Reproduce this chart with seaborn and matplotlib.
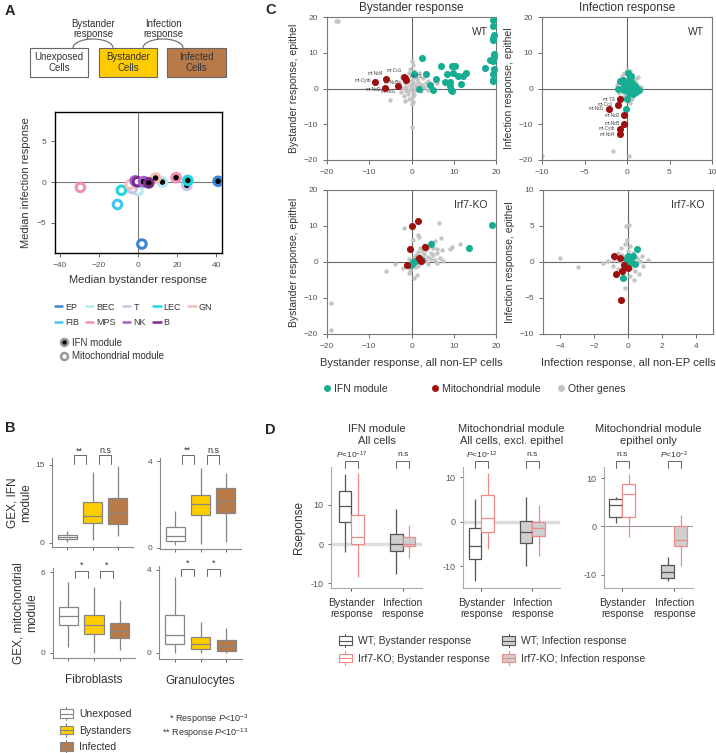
import numpy as np
import pandas as pd
import matplotlib
matplotlib.use("Agg")
import matplotlib.pyplot as plt
import seaborn as sns
from matplotlib.patches import Rectangle, Arc, Patch
from matplotlib.lines import Line2D
from matplotlib.legend_handler import HandlerBase

# ---------------- data ----------------
# Panel A: median responses per cell type
cell_types = ["EP", "BEC", "T", "LEC", "GN", "FIB", "MPS", "NK", "B"]
cell_colors = ["#3a86d0", "#b5eaf0", "#cbc2e8", "#22d6e0", "#f7bcb8",
               "#45c6f2", "#f38fb5", "#a760c6", "#7b2a90"]
ifn_x = [41.0, 12.5, 25.0, 25.5, 9.0, 3.8, 19.5, 2.8, 5.5]
ifn_y = [0.1, 0.0, -0.4, 0.2, 0.5, 0.0, 0.55, 0.05, -0.1]
mito_x = [2.0, 0.0, -3.0, -8.5, -4.0, -10.5, -29.5, -1.5, -0.3]
mito_y = [-7.6, -1.05, -0.8, -1.0, -0.3, -2.75, -0.65, 0.15, 0.05]

# Panel B: five-number summaries (whisker low, q1, median, q3, whisker high)
b_groups = ["Unexposed", "Bystanders", "Infected"]
fib_ifn = [[0.2, 0.8, 1.2, 1.5, 2.3], [0.6, 3.8, 5.1, 7.9, 13.7], [1.4, 3.6, 5.7, 8.6, 14.7]]
gran_ifn = [[0.14, 0.32, 0.55, 0.95, 1.7], [0.18, 1.5, 2.0, 2.44, 3.66], [0.26, 1.6, 2.16, 2.74, 3.43]]
fib_mito = [[0.45, 2.04, 2.72, 3.37, 5.23], [0.0, 1.37, 2.1, 2.8, 4.9], [0.2, 1.07, 1.6, 2.23, 3.9]]
gran_mito = [[0.0, 0.42, 0.85, 1.82, 3.67], [0.0, 0.18, 0.43, 0.74, 1.5], [0.0, 0.08, 0.31, 0.63, 1.18]]

# Panel C: gene-level responses
# WT bystander
wt_byst_ifn_x = [2.4, 0.6, 3.4, 1.8, 4.3, 5.0, 5.9, 7.1, 8.5, 8.0, 9.2, 9.8, 9.7, 10.3, 9.0, 9.4, 9.7, 11.0,
                 11.7, 12.1, 12.9, 17.5, 18.6, 19.3, 19.4, 19.5, 19.4, 19.3, 19.5, 19.6, 19.4, 19.3, 19.5, 19.4,
                 19.3, 19.2]
wt_byst_ifn_y = [8.6, 4.0, 4.0, 0.0, 0.9, -0.3, 2.6, 6.4, 4.0, 1.9, 1.9, 4.3, 6.2, 6.4, 0.8, -0.3, -0.6, 3.4,
                 1.2, 3.4, 4.4, 5.6, 8.1, 19.1, 17.4, 15.1, 14.2, 13.5, 9.6, 8.7, 8.2, 7.6, 5.4, 4.0, 2.3, 2.0]
wt_byst_mito_x = [-8.7, -6.1, -6.3, -3.1, -1.7, -1.4, -1.6]
wt_byst_mito_y = [1.9, 2.6, 0.2, 0.6, 3.1, 2.5, 2.9]
wt_byst_mito_lab = ["mt-Cytb", "mt-Nd4", "mt-Nd2", "mt-Nd1", "mt-Co1", "mt-Tl1", "mt-Nd5"]
wt_byst_other_x = [-17.8, -17.3, 0.0, -5.0, 0.2, 0.4, -0.3, 0.5, -0.5, 0.8, -1.0, 0.3, 1.2, -0.8, 0.1, 1.5,
                   -1.5, 0.6, 2.0, -0.4, 1.0, 2.5, -1.2, 0.2, 3.0, 1.6, -2.0, 0.7, -0.6, 1.3, -1.4, 0.3, 2.2,
                   -0.9, 0.6, -1.8, 0.0, -0.5, 0.4, -2.5, 3.5, 4.0, 5.5, 6.0, 3.8, -3.0, -2.2, 1.8, -1.5, 0.1, 2.8]
wt_byst_other_y = [19.0, 19.0, -10.8, -3.3, 7.8, 6.5, 5.5, 4.8, 4.2, 3.5, 3.0, 3.0, 2.6, 2.2, 2.0, 1.8, 1.5,
                   1.4, 1.2, 1.0, 0.8, 0.9, 0.5, 0.4, 0.5, 0.3, 0.2, -0.2, -0.4, -0.5, -0.8, -1.0, -0.7, -1.5,
                   -1.8, -2.0, -2.6, -3.0, -3.8, -1.0, 1.5, 2.2, 2.0, 1.5, -0.3, 1.8, 3.2, 4.2, -3.5, -4.3, 2.8]
# WT infection
wt_inf_ifn_x = [0.1, -0.8, -0.5, -1.1, 0.0, -0.1, 1.4, 0.6, 0.3, 0.8, 0.5, 0.2, 0.9, -0.2, 0.4, 0.7, 0.0,
                0.3, 1.0, -0.3, 0.5, 0.2, 0.6, 1.1, -0.4]
wt_inf_ifn_y = [4.4, 2.0, 2.3, 0.0, -2.8, -5.6, -0.5, 1.4, 0.5, 0.0, -0.7, -1.2, 0.8, 1.0, 2.8, -1.5, 0.2,
                -0.3, -0.9, -0.5, 3.5, 1.8, 0.3, 0.5, 0.7]
wt_inf_mito_x = [-0.8, -1.1, -2.1, -0.3, -0.3, -0.8, -0.8]
wt_inf_mito_y = [-3.0, -4.5, -5.6, -7.5, -9.9, -11.3, -12.8]
wt_inf_mito_lab = ["mt-Tl1", "mt-Co1", "mt-Nd1", "mt-Nd2", "mt-Nd5", "mt-Cytb", "mt-Nd4"]
wt_inf_other_x = [-10.0, -1.6, 0.2, 0.0, 0.3, -0.3, 0.6, 1.3, -0.6, 0.2, -0.2, 0.9, -0.9, 0.4, 1.1, -0.4,
                  0.7, -0.7, 0.1, 1.0, -0.3, 0.5, -0.6, 0.2, 0.8, -0.2, 0.4, -0.5, 0.1, 0.6, -1.2, 1.6, -1.0, 0.3]
wt_inf_other_y = [-18.8, -17.4, -18.8, 5.3, 4.8, 4.2, 3.8, 3.2, 3.5, 3.0, 2.5, 2.6, 1.8, 1.8, 1.5, 1.2, 0.9,
                  0.5, 0.6, 0.2, -0.2, -0.5, -0.8, -1.2, -1.5, -1.8, -2.2, -2.5, -3.2, -2.9, 1.0, 0.5, -1.3, -4.0]
# Irf7-KO bystander
ko_byst_ifn_x = [4.6, 13.5, 19.0, 0.0, 0.4, 0.8, 1.2, 2.5, -0.3, 1.8, 0.6]
ko_byst_ifn_y = [5.1, 3.9, 10.4, -0.5, 0.0, 0.3, 0.5, 0.5, -0.7, 0.6, 0.1]
ko_byst_mito_x = [1.5, 0.0, 3.3, -0.3, 1.8, 2.3, -1.1]
ko_byst_mito_y = [11.5, 10.1, 4.2, 3.6, 1.1, 0.2, -0.7]
ko_byst_other_x = [-19.0, -19.0, -6.0, -4.0, -2.0, 0.5, 1.2, -0.5, 11.5, 9.2, 9.5, 7.0, 6.6, -1.7, 1.5, 1.8,
                   5.5, 4.5, 3.0, 2.0, 4.0, 5.0, 6.0, 7.2, 3.5, 2.5, 1.5, 4.5, 6.0, 3.0, 1.0, 5.2, 2.0, 3.8,
                   0.5, 6.8, 2.8, 4.6, 1.5, 0.2, 3.5, 5.5, -0.5, 7.5, 2.2, -1.0, 0.8, -0.3, 1.5, 4.0, 6.0, 0.3]
ko_byst_other_y = [-11.3, -19.0, -2.4, -0.5, -1.8, -4.5, -3.5, -3.0, 5.0, 3.5, 4.2, 6.8, 10.8, 9.4, 7.5, 7.0,
                   5.8, 5.5, 4.8, 4.0, 4.0, 3.8, 3.5, 3.2, 3.2, 3.0, 2.8, 2.6, 2.4, 2.2, 2.0, 2.0, 1.8, 1.5,
                   1.4, 1.2, 1.0, 0.9, 0.6, 0.4, 0.3, 0.5, 0.8, 0.2, -0.3, -0.8, -1.5, -2.2, -1.0, -0.5, -0.2, 6.2]
# Irf7-KO infection
ko_inf_ifn_x = [0.5, 0.3, 0.0, -0.1, 0.2, 0.4, 0.1, -0.3]
ko_inf_ifn_y = [1.8, 0.9, 0.8, 0.4, 0.1, -0.3, -0.2, -2.2]
ko_inf_mito_x = [-0.8, -0.5, -0.25, 0.0, -0.35, -0.7, -0.4]
ko_inf_mito_y = [0.8, 0.6, -0.4, -0.9, -1.2, -1.7, -5.3]
ko_inf_other_x = [-4.0, -2.95, -0.1, 0.05, -0.15, 0.9, 0.65, -1.2, -0.9, -0.6, -0.2, 0.1, 0.0, -0.35, 0.3,
                  0.5, 0.7, -0.5, -0.1, 0.2, 0.4, -0.3, 0.1, -0.6, 0.8, -0.8, 0.35, -0.4, 0.6, -0.05, 0.15,
                  1.2, -1.5]
ko_inf_other_y = [0.5, -0.7, 5.0, 5.2, -3.6, -0.5, -1.6, 0.1, -0.6, 1.2, 2.5, 2.2, 1.5, 1.0, 1.3, 0.5, 0.2,
                  0.2, -0.3, -0.8, -1.2, -1.5, -2.0, -1.0, 0.8, 0.3, -2.5, 2.0, 1.8, 3.0, -0.1, 0.3, -0.2]

# Panel D: five-number summaries, order WT byst, KO byst, WT inf, KO inf
d_resp = ["Bystander\nresponse", "Infection\nresponse"]
d_geno = ["WT", "Irf7-KO"]
d_ifn_all = [[-2.0, 5.6, 9.6, 13.6, 17.8], [-8.4, -0.1, 1.9, 7.4, 18.2],
             [-7.7, -1.7, 0.0, 2.5, 9.0], [-3.5, -0.5, 0.1, 1.9, 4.9]]
d_mito_noep = [[-13.4, -8.4, -5.5, -1.5, 5.2], [-6.1, -2.4, 0.8, 5.9, 11.0],
               [-9.9, -4.8, -2.3, 0.2, 5.6], [-7.6, -3.3, -1.5, 0.0, 3.7]]
d_mito_ep = [[0.7, 1.9, 4.4, 5.6, 6.0], [-2.2, 1.9, 6.6, 8.7, 10.9],
             [-11.4, -10.8, -9.4, -8.0, -6.3], [-8.2, -4.0, -2.9, 0.1, 2.3]]

# ---------------- style ----------------
sns.set_theme(style="ticks")
plt.rcParams["font.family"] = ["Liberation Sans", "DejaVu Sans"]
plt.rcParams["mathtext.fontset"] = "custom"
plt.rcParams["mathtext.rm"] = "Liberation Sans"
plt.rcParams["mathtext.it"] = "Liberation Sans:italic"
plt.rcParams["axes.unicode_minus"] = True

TXT = "#333333"
TICK = "#555555"
W, H = 716, 753
fig = plt.figure(figsize=(W / 100, H / 100), dpi=100)


def add_ax(x0, y0, x1, y1):
    return fig.add_axes([x0 / W, 1 - y1 / H, (x1 - x0) / W, (y1 - y0) / H])


class BoxGlyph(HandlerBase):
    """Small box-and-whisker symbol for legends."""
    def create_artists(self, legend, orig, xd, yd, width, height, fontsize, trans):
        fc, ec = orig.get_facecolor(), orig.get_edgecolor()
        x0, y0 = -xd, -yd
        cx = x0 + width / 2
        stub = Line2D([cx, cx], [y0 - 0.3 * height, y0 + 1.3 * height], color=ec,
                      lw=0.8, transform=trans)
        rect = Rectangle((x0, y0), width, height, facecolor=fc, edgecolor=ec,
                         lw=0.8, transform=trans)
        med = Line2D([x0, x0 + width], [y0 + height / 2] * 2, color=ec, lw=0.8,
                     transform=trans)
        return [stub, rect, med]


def bracket(ax, x1, x2, ytop, ybot, ytext, text, fs=6.5):
    tr = ax.get_xaxis_transform()
    ax.plot([x1, x1, x2, x2], [ybot, ytop, ytop, ybot], transform=tr,
            clip_on=False, color="#666666", lw=0.7)
    ax.text((x1 + x2) / 2, ytext, text, transform=tr, ha="center",
            va="center", fontsize=fs, color=TXT)


def five_num_frame(stats, labels):
    rows = []
    for lab, vals in zip(labels, stats):
        for v in vals:
            rows.append({"group": lab, "value": v})
    return pd.DataFrame(rows)


# ---------------- overlay for diagram / free text ----------------
ov = fig.add_axes([0, 0, 1, 1])
ov.set_xlim(0, W)
ov.set_ylim(H, 0)
ov.axis("off")
ov.patch.set_alpha(0)

for lab, (x, y) in zip("ABCD", [(5, 4), (5, 421), (265, 3), (265, 423)]):
    ov.text(x, y, lab, fontsize=10.5, fontweight="bold", va="top", ha="left")

# A diagram
diag_boxes = [("Unexposed\nCells", 30, 88, "white"),
              ("Bystander\nCells", 99, 157, "#FFCC00"),
              ("Infected\nCells", 167, 226, "#B97A4A")]
for txt, x0, x1, col in diag_boxes:
    ov.add_patch(Rectangle((x0, 48), x1 - x0, 29, facecolor=col,
                           edgecolor="#666666", lw=0.8))
    ov.text((x0 + x1) / 2, 62.5, txt, ha="center", va="center",
            fontsize=7, color=TXT, linespacing=1.05)
for cx, txt in [(93, "Bystander\nresponse"), (163, "Infection\nresponse")]:
    ov.add_patch(Arc((cx, 48), 40, 18, theta1=180, theta2=360,
                     color="#666666", lw=0.8))
    ov.text(cx, 29, txt, ha="center", va="center", fontsize=7,
            color=TXT, linespacing=1.05)

# ---------------- Panel A scatter ----------------
ax_a = add_ax(55, 112, 222, 253)
ax_a.axhline(0, color="#777777", lw=0.8, zorder=0)
ax_a.axvline(0, color="#777777", lw=0.8, zorder=0)
pal_a = dict(zip(cell_types, cell_colors))
df_mito = pd.DataFrame({"cell": cell_types, "x": mito_x, "y": mito_y})
df_ifn = pd.DataFrame({"cell": cell_types, "x": ifn_x, "y": ifn_y})
for df, face in [(df_mito, "white"), (df_ifn, "black")]:
    sns.scatterplot(data=df, x="x", y="y", hue="cell", palette=pal_a,
                    s=38, legend=False, ax=ax_a, zorder=3)
    coll = ax_a.collections[-1]
    coll.set_edgecolors(coll.get_facecolors())
    coll.set_facecolors(face)
    coll.set_linewidths(2.2)
ax_a.set_xlim(-42.5, 43)
ax_a.set_ylim(-8.7, 8.6)
ax_a.set_xticks([-40, -20, 0, 20, 40])
ax_a.set_yticks([-5, 0, 5])
for s in ax_a.spines.values():
    s.set_color("black")
    s.set_linewidth(1.0)
ax_a.tick_params(labelsize=6, colors=TICK, length=3, width=0.6)
ax_a.set_xlabel("Median bystander response", fontsize=8, color=TXT)
ax_a.set_ylabel("Median infection response", fontsize=8, color=TXT)

cell_handles = [Line2D([], [], color=c, lw=1.8) for c in cell_colors]
leg_order = [0, 5, 1, 6, 2, 7, 3, 8, 4]
fig.legend([cell_handles[i] for i in leg_order], [cell_types[i] for i in leg_order],
           ncol=5, loc="upper left", bbox_to_anchor=(50 / W, 1 - 298 / H),
           frameon=False, fontsize=6.5, handlelength=0.8, handletextpad=0.35,
           columnspacing=0.8, labelspacing=0.75, borderpad=0, labelcolor=TXT)
mod_handles = [Line2D([], [], marker="o", ls="none", ms=5, mfc="black", mec="#999999", mew=1.8),
               Line2D([], [], marker="o", ls="none", ms=5, mfc="white", mec="#999999", mew=1.8)]
fig.legend(mod_handles, ["IFN module", "Mitochondrial module"], loc="upper left",
           bbox_to_anchor=(54 / W, 1 - 333 / H), frameon=False, fontsize=7,
           handlelength=1.0, handletextpad=0.3, labelspacing=0.35, borderpad=0,
           labelcolor=TXT)

# ---------------- Panel B boxplots ----------------
b_pal = dict(zip(b_groups, ["white", "#FFCC00", "#B97A4A"]))
b_panels = [
    ((52, 458, 133, 547), fib_ifn, (-0.77, 16.3), [0, 15], ["**", "n.s"], (1.034, 0.933, 1.08),
     "GEX, IFN\nmodule", ""),
    ((160, 458, 241, 549), gran_ifn, (-0.05, 4.14), [0, 4], ["**", "n.s"], (1.034, 0.933, 1.08), "", ""),
    ((53, 568, 135, 658), fib_mito, (-0.39, 6.3), [0, 6], ["*", "*"], (0.97, 0.89, 1.03),
     "GEX, mitochondrial\nmodule", "Fibroblasts"),
    ((159, 566, 242, 659), gran_mito, (-0.3, 4.19), [0, 4], ["*", "*"], (0.97, 0.89, 1.03), "",
     "Granulocytes"),
]
for rect, stats, ylim, yt, sig, (yb_top, yb_bot, y_txt), ylab, xlab in b_panels:
    ax = add_ax(*rect)
    df = five_num_frame(stats, b_groups)
    sns.boxplot(data=df, x="group", y="value", hue="group", order=b_groups,
                hue_order=b_groups, palette=b_pal, saturation=1, width=0.75,
                whis=(0, 100), showfliers=False, showcaps=False,
                linecolor="#858585", linewidth=0.9, legend=False, ax=ax)
    ax.set_xlim(-0.6, 2.6)
    ax.set_ylim(*ylim)
    ax.set_yticks(yt)
    ax.set_xticks([0, 1, 2], ["", "", ""])
    sns.despine(ax=ax)
    for s in ["left", "bottom"]:
        ax.spines[s].set_color("#888888")
        ax.spines[s].set_linewidth(0.8)
    ax.tick_params(labelsize=6, colors=TICK, length=2, width=0.6)
    ax.set_ylabel(ylab, fontsize=8.5, color=TXT, labelpad=2)
    ax.set_xlabel(xlab, fontsize=8.5, color=TXT, labelpad=6)
    bracket(ax, 0.25, 0.75, yb_top, yb_bot, y_txt, sig[0])
    bracket(ax, 1.25, 1.75, yb_top, yb_bot, y_txt, sig[1])

fig.legend([Patch(facecolor=b_pal[g], edgecolor="#858585") for g in b_groups], b_groups,
           handler_map={Patch: BoxGlyph()}, loc="upper left",
           bbox_to_anchor=(55 / W, 1 - 704 / H), frameon=False, fontsize=7.5,
           handlelength=1.2, handleheight=0.85, handletextpad=0.6,
           labelspacing=0.62, borderpad=0, labelcolor=TXT)
ov.text(248, 719, r"* Response $P$<10$^{-3}$", ha="right", va="center", fontsize=6.5, color=TXT)
ov.text(248, 733, r"** Response $P$<10$^{-13}$", ha="right", va="center", fontsize=6.5, color=TXT)

# ---------------- Panel C scatters ----------------
C_GRAY, C_TEAL, C_RED = "#c4c4c4", "#17ad92", "#9e1010"
wt_byst_lab_off = [(-3, 1), (-2, 4), (-3, -1), (-2, -4), (-2, 5), (3, 2), (-4, -3)]
wt_inf_lab_off = [(-3.5, 0)] * 7
c_panels = [
    ((327, 17, 496, 160), (-20, 20), (-20, 20), [-20, -10, 0, 10, 20], [-20, -10, 0, 10, 20],
     wt_byst_other_x, wt_byst_other_y, wt_byst_ifn_x, wt_byst_ifn_y, wt_byst_mito_x, wt_byst_mito_y,
     wt_byst_mito_lab, wt_byst_lab_off, "WT", "Bystander response, epithel", ""),
    ((542, 17, 712, 160), (-10, 10), (-20, 20), [-10, -5, 0, 5, 10], [-20, -10, 0, 10, 20],
     wt_inf_other_x, wt_inf_other_y, wt_inf_ifn_x, wt_inf_ifn_y, wt_inf_mito_x, wt_inf_mito_y,
     wt_inf_mito_lab, wt_inf_lab_off, "WT", "Infection response, epithel", ""),
    ((327, 190, 496, 334), (-20, 20), (-20, 20), [-20, -10, 0, 10, 20], [-20, -10, 0, 10, 20],
     ko_byst_other_x, ko_byst_other_y, ko_byst_ifn_x, ko_byst_ifn_y, ko_byst_mito_x, ko_byst_mito_y,
     None, None, "Irf7-KO", "Bystander response, epithel", "Bystander response, all non-EP cells"),
    ((543, 190, 713, 334), (-5, 5), (-10, 10), [-4, -2, 0, 2, 4], [-10, -5, 0, 5, 10],
     ko_inf_other_x, ko_inf_other_y, ko_inf_ifn_x, ko_inf_ifn_y, ko_inf_mito_x, ko_inf_mito_y,
     None, None, "Irf7-KO", "Infection response, epithel", "Infection response, all non-EP cells"),
]
for (rect, xlim, ylim, xt, yt, ox, oy, ix, iy, mx, my, mlab, moff, tag, ylab, xlab) in c_panels:
    ax = add_ax(*rect)
    ax.axhline(0, color="#666666", lw=0.8, zorder=1)
    ax.axvline(0, color="#666666", lw=0.8, zorder=1)
    sns.scatterplot(x=ox, y=oy, color=C_GRAY, s=10, linewidth=0, ax=ax, zorder=2)
    sns.scatterplot(x=ix, y=iy, color=C_TEAL, s=26, linewidth=0, ax=ax, zorder=3, clip_on=False)
    sns.scatterplot(x=mx, y=my, color=C_RED, s=26, linewidth=0, ax=ax, zorder=4)
    if mlab is not None:
        for x, y, lab, (dx, dy) in zip(mx, my, mlab, moff):
            ax.annotate(lab, (x, y), xytext=(dx, dy), textcoords="offset points",
                        ha="right" if dx < 0 else "left", va="center",
                        fontsize=3.3, color="#444444")
    ax.set_xlim(*xlim)
    ax.set_ylim(*ylim)
    ax.set_xticks(xt)
    ax.set_yticks(yt)
    for s in ax.spines.values():
        s.set_color("#777777")
        s.set_linewidth(0.8)
    ax.tick_params(labelsize=6, colors=TICK, length=3, width=0.6)
    ax.text(0.95, 0.93, tag, transform=ax.transAxes, ha="right", va="top",
            fontsize=7.5, color=TXT)
    ax.set_ylabel(ylab, fontsize=7.5, color=TXT, labelpad=3)
    ax.set_xlabel(xlab, fontsize=8, color=TXT, labelpad=6)

ov.text(411, 8, "Bystander response", ha="center", va="center", fontsize=8.5, color=TXT)
ov.text(627, 8, "Infection response", ha="center", va="center", fontsize=8.5, color=TXT)
for x0, col, lab in [(322, C_TEAL, "IFN module"), (430, C_RED, "Mitochondrial module"),
                     (556, C_GRAY, "Other genes")]:
    fig.legend([Line2D([], [], marker="o", ls="none", ms=5, mfc=col, mec="none")], [lab],
               loc="center left", bbox_to_anchor=(x0 / W, 1 - 389 / H), frameon=False,
               fontsize=7.5, handlelength=1.0, handletextpad=0.2, borderpad=0,
               borderaxespad=0, labelcolor=TXT)

# ---------------- Panel D boxplots ----------------
d_fill = {("Bystander\nresponse", "WT"): "white", ("Bystander\nresponse", "Irf7-KO"): "white",
          ("Infection\nresponse", "WT"): "#cfcfcf", ("Infection\nresponse", "Irf7-KO"): "#cfcfcf"}
d_edge = {"WT": "#555555", "Irf7-KO": "#f08a8a"}
d_keys = [("Bystander\nresponse", "WT"), ("Bystander\nresponse", "Irf7-KO"),
          ("Infection\nresponse", "WT"), ("Infection\nresponse", "Irf7-KO")]
d_panels = [
    ((331, 467, 422, 588), d_ifn_all, (-0.4, 1.38), (-11.2, 19.6), "IFN module\nAll cells",
     [r"$P$<10$^{-17}$", "n.s"], "Rseponse", ("#dddddd", 2.5)),
    ((463, 467, 560, 588), d_mito_noep, (-0.36, 1.54), (-14.9, 12.3),
     "Mitochondrial module\nAll cells, excl. epithel", [r"$P$<10$^{-12}$", "n.s"], "", ("#dddddd", 2.5)),
    ((604, 467, 693, 588), d_mito_ep, (-0.35, 1.36), (-12.8, 12.3),
     "Mitochondrial module\nepithel only", ["n.s", r"$P$<10$^{-2}$"], "", ("#999999", 0.8)),
]
for rect, stats, xlim, ylim, title, sig, ylab, (zc, zw) in d_panels:
    ax = add_ax(*rect)
    ax.axhline(0, color=zc, lw=zw, zorder=0)
    for (resp, geno), vals in zip(d_keys, stats):
        sub = pd.DataFrame({"resp": resp, "geno": geno, "value": vals})
        fill = d_fill[(resp, geno)]
        sns.boxplot(data=sub, x="resp", y="value", hue="geno", order=d_resp,
                    hue_order=d_geno, dodge=True, gap=0, width=0.5,
                    palette={g: fill for g in d_geno}, saturation=1,
                    linecolor=d_edge[geno], linewidth=0.9, whis=(0, 100),
                    showfliers=False, showcaps=False, legend=False, ax=ax)
    ax.set_xlim(*xlim)
    ax.set_ylim(*ylim)
    ax.set_yticks([-10, 0, 10], ["-10", "0", "10"])
    sns.despine(ax=ax)
    for s in ["left", "bottom"]:
        ax.spines[s].set_color("#aaaaaa")
        ax.spines[s].set_linewidth(0.8)
    ax.tick_params(axis="y", labelsize=6.5, colors=TICK, length=2, width=0.6)
    ax.tick_params(axis="x", labelsize=7.5, colors=TXT, length=2, width=0.6, pad=5)
    ax.set_xlabel("")
    ax.set_ylabel(ylab, fontsize=8.5, color=TXT, labelpad=4)
    cx = (rect[0] + rect[2]) / 2
    ov.text(cx, 435, title, ha="center", va="center", fontsize=8, color=TXT, linespacing=1.15)
    bracket(ax, -0.125, 0.125, 1.05, 0.99, 1.10, sig[0], fs=6)
    bracket(ax, 0.875, 1.125, 1.05, 0.99, 1.10, sig[1], fs=6)

fig.legend([Patch(facecolor=d_fill[k], edgecolor=d_edge[k[1]]) for k in d_keys],
           ["WT; Bystander response", "Irf7-KO; Bystander response",
            "WT; Infection response", "Irf7-KO; Infection response"],
           handler_map={Patch: BoxGlyph()}, ncol=2, loc="upper left",
           bbox_to_anchor=(334 / W, 1 - 631 / H), frameon=False, fontsize=7.5,
           handlelength=1.2, handleheight=0.85, handletextpad=0.6, columnspacing=1.2,
           labelspacing=0.7, borderpad=0, labelcolor=TXT)

fig.savefig("out.png", dpi=100)
